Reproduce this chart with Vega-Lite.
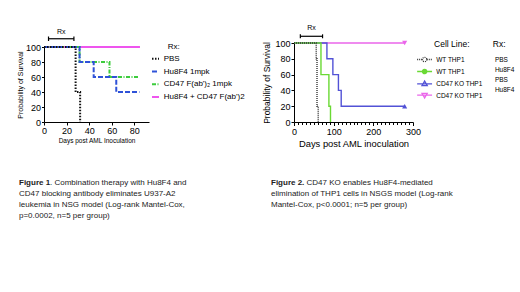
{
  "$schema": "https://vega.github.io/schema/vega-lite/v6.json",
  "autosize": {"type": "pad"},
  "padding": {"left": 16, "top": 24, "right": 0, "bottom": 0},
  "bounds": "flush",
  "spacing": 145,
  "config": {
    "font": "Liberation Sans",
    "view": {"stroke": null},
    "axis": {"grid": false, "domainColor": "#000", "tickColor": "#000", "labelColor": "#000", "titleColor": "#000", "titleFontWeight": "normal", "domainWidth": 1, "tickWidth": 1, "labelFlush": false, "labelOverlap": false},
    "legend": {"orient": "none", "padding": 0, "labelColor": "#000", "titleColor": "#000", "titleFontWeight": "normal"}
  },
  "resolve": {
    "scale": {"x": "independent", "y": "independent", "color": "independent", "strokeDash": "independent", "strokeWidth": "independent", "shape": "independent"},
    "legend": {"color": "independent", "strokeDash": "independent", "strokeWidth": "independent", "shape": "independent"}
  },
  "hconcat": [
    {
      "width": 105,
      "height": 79,
      "layer": [
        {
          "data": {"values": [
            {"g": "Hu8F4 + CD47 F(ab')2", "day": 0, "s": 100}, {"g": "Hu8F4 + CD47 F(ab')2", "day": 85, "s": 100},
            {"g": "CD47 F(ab')₂ 1mpk", "day": 0, "s": 100}, {"g": "CD47 F(ab')₂ 1mpk", "day": 31.5, "s": 80}, {"g": "CD47 F(ab')₂ 1mpk", "day": 58, "s": 60}, {"g": "CD47 F(ab')₂ 1mpk", "day": 84.5, "s": 60},
            {"g": "Hu8F4 1mpk", "day": 0, "s": 100}, {"g": "Hu8F4 1mpk", "day": 31.5, "s": 80}, {"g": "Hu8F4 1mpk", "day": 44, "s": 60}, {"g": "Hu8F4 1mpk", "day": 64, "s": 40}, {"g": "Hu8F4 1mpk", "day": 84.5, "s": 40},
            {"g": "PBS", "day": 0, "s": 100}, {"g": "PBS", "day": 28, "s": 40}, {"g": "PBS", "day": 32, "s": 0}
          ]},
          "mark": {"type": "line", "interpolate": "step-after", "clip": false},
          "encoding": {
            "x": {"field": "day", "type": "quantitative", "scale": {"domain": [0, 93], "nice": false},
              "axis": {"values": [0, 20, 40, 60, 80], "labelOverlap": false, "title": "Days post AML Inoculation", "titleFontSize": 6.5, "labelFontSize": 9, "tickSize": 3, "labelPadding": 1, "titlePadding": 2}},
            "y": {"field": "s", "type": "quantitative", "scale": {"domain": [0, 100], "range": [79, 4]},
              "axis": {"values": [0, 20, 40, 60, 80, 100], "labelOverlap": false, "title": "Probability of Survival", "titleFontSize": 7, "labelFontSize": 9, "tickSize": 2.5, "labelPadding": 1, "titlePadding": 2}},
            "color": {"field": "g", "type": "nominal", "title": "Rx:",
              "scale": {"domain": ["PBS", "Hu8F4 1mpk", "CD47 F(ab')₂ 1mpk", "Hu8F4 + CD47 F(ab')2"], "range": ["#111111", "#2f52d8", "#3ccc3c", "#ee55ee"]},
              "legend": {"legendX": 107, "legendY": 0, "labelFontSize": 8, "titleFontSize": 8, "symbolSize": 49, "rowPadding": 3.7, "titlePadding": 3.3, "labelOffset": 3.7, "symbolType": "stroke",
                "encode": {"title": {"update": {"dx": {"value": 16.7}}}}}},
            "strokeDash": {"field": "g", "type": "nominal", "title": "Rx:",
              "scale": {"domain": ["PBS", "Hu8F4 1mpk", "CD47 F(ab')₂ 1mpk", "Hu8F4 + CD47 F(ab')2"], "range": [[1.5, 1.5], [5, 2], [4, 1.5, 1, 1.5], [1, 0]]}},
            "strokeWidth": {"field": "g", "type": "ordinal", "title": "Rx:",
              "scale": {"domain": ["PBS", "Hu8F4 1mpk", "CD47 F(ab')₂ 1mpk", "Hu8F4 + CD47 F(ab')2"], "range": [2, 2, 1.5, 1]}}
          }
        },
        {
          "data": {"values": [{"day": 4}, {"day": 26.5}]},
          "layer": [
            {"mark": {"type": "line", "color": "#000", "strokeWidth": 1.2, "clip": false},
             "encoding": {
               "x": {"field": "day", "type": "quantitative", "axis": {"values": [0, 20, 40, 60, 80], "labelOverlap": false, "title": "Days post AML Inoculation", "titleFontSize": 6.5, "labelFontSize": 9, "tickSize": 3, "labelPadding": 1, "titlePadding": 2}},
               "y": {"datum": 111, "type": "quantitative", "axis": {"values": [0, 20, 40, 60, 80, 100], "labelOverlap": false, "title": "Probability of Survival", "titleFontSize": 7, "labelFontSize": 9, "tickSize": 2.5, "labelPadding": 1, "titlePadding": 2}}}},
            {"mark": {"type": "rule", "color": "#000", "strokeWidth": 1.2, "clip": false},
             "encoding": {
               "x": {"field": "day", "type": "quantitative", "axis": {"values": [0, 20, 40, 60, 80], "labelOverlap": false, "title": "Days post AML Inoculation", "titleFontSize": 6.5, "labelFontSize": 9, "tickSize": 3, "labelPadding": 1, "titlePadding": 2}},
               "y": {"datum": 108, "type": "quantitative", "axis": {"values": [0, 20, 40, 60, 80, 100], "labelOverlap": false, "title": "Probability of Survival", "titleFontSize": 7, "labelFontSize": 9, "tickSize": 2.5, "labelPadding": 1, "titlePadding": 2}},
               "y2": {"datum": 114}}},
            {"mark": {"type": "text", "fontSize": 7, "baseline": "middle", "color": "#000", "clip": false},
             "encoding": {
               "x": {"aggregate": "mean", "field": "day", "type": "quantitative", "axis": {"values": [0, 20, 40, 60, 80], "labelOverlap": false, "title": "Days post AML Inoculation", "titleFontSize": 6.5, "labelFontSize": 9, "tickSize": 3, "labelPadding": 1, "titlePadding": 2}},
               "y": {"datum": 120, "type": "quantitative", "axis": {"values": [0, 20, 40, 60, 80, 100], "labelOverlap": false, "title": "Probability of Survival", "titleFontSize": 7, "labelFontSize": 9, "tickSize": 2.5, "labelPadding": 1, "titlePadding": 2}},
               "text": {"value": "Rx"}}}
          ]
        },
        {
          "data": {"values": [{}]},
          "layer": [
            {"mark": {"type": "text", "align": "left", "baseline": "alphabetic", "fontSize": 8, "fontWeight": "bold", "color": "#222", "x": -25, "y": 142},
             "encoding": {"text": {"value": "Figure 1"}}},
            {"mark": {"type": "text", "align": "left", "baseline": "alphabetic", "fontSize": 8, "color": "#222", "x": 6, "y": 142},
             "encoding": {"text": {"value": ". Combination therapy with Hu8F4 and"}}},
            {"mark": {"type": "text", "align": "left", "baseline": "alphabetic", "fontSize": 8, "color": "#222", "x": -25, "y": 153, "lineHeight": 11},
             "encoding": {"text": {"value": ["CD47 blocking antibody eliminates U937-A2", "leukemia in NSG model (Log-rank Mantel-Cox,", "p=0.0002, n=5 per group)"]}}}
          ]
        }
      ]
    },
    {
      "width": 119,
      "height": 79,
      "layer": [
        {
          "data": {"values": [
            {"g": "KO_Hu", "day": 0, "s": 100}, {"g": "KO_Hu", "day": 279, "s": 100},
            {"g": "KO_PBS", "day": 0, "s": 100}, {"g": "KO_PBS", "day": 83, "s": 80}, {"g": "KO_PBS", "day": 98, "s": 60}, {"g": "KO_PBS", "day": 112, "s": 40}, {"g": "KO_PBS", "day": 119, "s": 20}, {"g": "KO_PBS", "day": 279, "s": 20},
            {"g": "WT_Hu", "day": 0, "s": 100}, {"g": "WT_Hu", "day": 68, "s": 60}, {"g": "WT_Hu", "day": 88, "s": 20}, {"g": "WT_Hu", "day": 92, "s": 0},
            {"g": "WT_PBS", "day": 0, "s": 100}, {"g": "WT_PBS", "day": 56, "s": 80}, {"g": "WT_PBS", "day": 58, "s": 20}, {"g": "WT_PBS", "day": 61, "s": 0}
          ]},
          "mark": {"type": "line", "interpolate": "step-after", "clip": false},
          "encoding": {
            "x": {"field": "day", "type": "quantitative", "scale": {"domain": [0, 300], "nice": false},
              "axis": {"values": [0, 10, 20, 30, 40, 50, 60, 70, 80, 90, 100, 110, 120, 130, 140, 150, 160, 170, 180, 190, 200, 210, 220, 230, 240, 250, 260, 270, 280, 290, 300],
                "labelExpr": "datum.value % 100 === 0 ? datum.label : ''", "labelOverlap": false,
                "title": "Days post AML inoculation", "titleFontSize": 9.4, "labelFontSize": 9,
                "tickSize": {"condition": {"test": "datum.value % 100 === 0", "value": 3.5}, "value": 2.5},
                "labelPadding": 2, "titlePadding": 3}},
            "y": {"field": "s", "type": "quantitative", "scale": {"domain": [0, 100]},
              "axis": {"values": [0, 20, 40, 60, 80, 100], "labelOverlap": false, "title": "Probability of Survival", "titleFontSize": 8.5, "labelFontSize": 9, "tickSize": 3, "labelPadding": 1, "titlePadding": 3}},
            "color": {"field": "g", "type": "nominal", "title": "Cell Line:",
              "scale": {"domain": ["WT_PBS", "WT_Hu", "KO_PBS", "KO_Hu"], "range": ["#333333", "#6ad934", "#5252d6", "#ea66ea"]},
              "legend": {"legendX": 125.1, "legendY": -3, "labelFontSize": 6.5, "titleFontSize": 8.5, "symbolSize": 77, "symbolStrokeWidth": 1.3, "rowPadding": 1, "titlePadding": 5.5, "labelOffset": 6.1,
                "labelExpr": "datum.value === 'KO_PBS' || datum.value === 'KO_Hu' ? 'CD47 KO THP1' : 'WT THP1'",
                "encode": {"title": {"update": {"dx": {"value": 15}}}}}},
            "strokeDash": {"field": "g", "type": "nominal", "title": "Cell Line:",
              "scale": {"domain": ["WT_PBS", "WT_Hu", "KO_PBS", "KO_Hu"], "range": [[1, 1], [1, 0], [1, 0], [1, 0]]}},
            "strokeWidth": {"field": "g", "type": "ordinal", "title": "Rx:",
              "scale": {"domain": ["KO_Hu", "KO_PBS", "WT_Hu", "WT_PBS"], "range": [1.4, 1.4, 2, 1]},
              "legend": {"legendX": 183.8, "legendY": -3, "values": ["WT_PBS", "WT_Hu", "KO_PBS", "KO_Hu"], "labelFontSize": 6.5, "titleFontSize": 8.5, "symbolSize": 77, "symbolOpacity": 0, "rowPadding": 1, "titlePadding": 5.5, "labelOffset": 6.1,
                "labelExpr": "indexof(datum.value, 'PBS') >= 0 ? 'PBS' : 'Hu8F4'",
                "encode": {"title": {"update": {"dx": {"value": 15}}}}}}
          }
        },
        {
          "data": {"values": [{"g": "KO_PBS", "day": 279, "s": 20}, {"g": "KO_Hu", "day": 279, "s": 100}]},
          "layer": [
            {
              "mark": {"type": "point", "filled": false, "size": 0, "strokeWidth": 1.3, "clip": false},
              "encoding": {
                "x": {"field": "day", "type": "quantitative",
                  "axis": {"values": [0, 10, 20, 30, 40, 50, 60, 70, 80, 90, 100, 110, 120, 130, 140, 150, 160, 170, 180, 190, 200, 210, 220, 230, 240, 250, 260, 270, 280, 290, 300],
                    "labelExpr": "datum.value % 100 === 0 ? datum.label : ''", "labelOverlap": false,
                    "title": "Days post AML inoculation", "titleFontSize": 9.4, "labelFontSize": 9,
                    "tickSize": {"condition": {"test": "datum.value % 100 === 0", "value": 3.5}, "value": 2.5},
                    "labelPadding": 2, "titlePadding": 3}},
                "y": {"field": "s", "type": "quantitative",
                  "axis": {"values": [0, 20, 40, 60, 80, 100], "labelOverlap": false, "title": "Probability of Survival", "titleFontSize": 8.5, "labelFontSize": 9, "tickSize": 3, "labelPadding": 1, "titlePadding": 3}},
                "color": {"field": "g", "type": "nominal", "title": "Cell Line:"},
                "shape": {"field": "g", "type": "nominal", "title": "Cell Line:",
                  "scale": {"domain": ["WT_PBS", "WT_Hu", "KO_PBS", "KO_Hu"],
                    "range": ["M-1.7,0H-0.5M0.5,0H1.7M0.5,0A0.5,0.5 0 1 1 -0.5,0A0.5,0.5 0 1 1 0.5,0Z", "M-1.7,0H1.7M0.5,0A0.5,0.5 0 1 1 -0.5,0A0.5,0.5 0 1 1 0.5,0ZM0.25,0A0.25,0.25 0 1 1 -0.25,0A0.25,0.25 0 1 1 0.25,0Z", "M-1.7,0.1H1.7M-0.6,0.5L0,-0.55L0.6,0.5Z", "M-1.7,-0.1H1.7M-0.6,-0.5L0,0.55L0.6,-0.5Z"]}}
              }
            },
            {
              "transform": [{"filter": "datum.g === 'KO_PBS'"}],
              "mark": {"type": "point", "filled": true, "shape": "triangle-up", "size": 26, "color": "#5252d6", "opacity": 1, "clip": false},
              "encoding": {
                "x": {"field": "day", "type": "quantitative",
                  "axis": {"values": [0, 10, 20, 30, 40, 50, 60, 70, 80, 90, 100, 110, 120, 130, 140, 150, 160, 170, 180, 190, 200, 210, 220, 230, 240, 250, 260, 270, 280, 290, 300],
                    "labelExpr": "datum.value % 100 === 0 ? datum.label : ''", "labelOverlap": false,
                    "title": "Days post AML inoculation", "titleFontSize": 9.4, "labelFontSize": 9,
                    "tickSize": {"condition": {"test": "datum.value % 100 === 0", "value": 3.5}, "value": 2.5},
                    "labelPadding": 2, "titlePadding": 3}},
                "y": {"field": "s", "type": "quantitative",
                  "axis": {"values": [0, 20, 40, 60, 80, 100], "labelOverlap": false, "title": "Probability of Survival", "titleFontSize": 8.5, "labelFontSize": 9, "tickSize": 3, "labelPadding": 1, "titlePadding": 3}}
              }
            },
            {
              "transform": [{"filter": "datum.g === 'KO_Hu'"}],
              "mark": {"type": "point", "filled": true, "shape": "triangle-down", "size": 26, "color": "#ea66ea", "opacity": 1, "clip": false},
              "encoding": {
                "x": {"field": "day", "type": "quantitative",
                  "axis": {"values": [0, 10, 20, 30, 40, 50, 60, 70, 80, 90, 100, 110, 120, 130, 140, 150, 160, 170, 180, 190, 200, 210, 220, 230, 240, 250, 260, 270, 280, 290, 300],
                    "labelExpr": "datum.value % 100 === 0 ? datum.label : ''", "labelOverlap": false,
                    "title": "Days post AML inoculation", "titleFontSize": 9.4, "labelFontSize": 9,
                    "tickSize": {"condition": {"test": "datum.value % 100 === 0", "value": 3.5}, "value": 2.5},
                    "labelPadding": 2, "titlePadding": 3}},
                "y": {"field": "s", "type": "quantitative",
                  "axis": {"values": [0, 20, 40, 60, 80, 100], "labelOverlap": false, "title": "Probability of Survival", "titleFontSize": 8.5, "labelFontSize": 9, "tickSize": 3, "labelPadding": 1, "titlePadding": 3}}
              }
            }
          ]
        },
        {
          "data": {"values": [{"day": 16}, {"day": 72}]},
          "layer": [
            {"mark": {"type": "line", "color": "#000", "strokeWidth": 1.2, "clip": false},
             "encoding": {
               "x": {"field": "day", "type": "quantitative",
                 "axis": {"values": [0, 10, 20, 30, 40, 50, 60, 70, 80, 90, 100, 110, 120, 130, 140, 150, 160, 170, 180, 190, 200, 210, 220, 230, 240, 250, 260, 270, 280, 290, 300],
                   "labelExpr": "datum.value % 100 === 0 ? datum.label : ''", "labelOverlap": false,
                   "title": "Days post AML inoculation", "titleFontSize": 9.4, "labelFontSize": 9,
                   "tickSize": {"condition": {"test": "datum.value % 100 === 0", "value": 3.5}, "value": 2.5},
                   "labelPadding": 2, "titlePadding": 3}},
               "y": {"datum": 108.5, "type": "quantitative",
                 "axis": {"values": [0, 20, 40, 60, 80, 100], "labelOverlap": false, "title": "Probability of Survival", "titleFontSize": 8.5, "labelFontSize": 9, "tickSize": 3, "labelPadding": 1, "titlePadding": 3}}}},
            {"mark": {"type": "rule", "color": "#000", "strokeWidth": 1.2, "clip": false},
             "encoding": {
               "x": {"field": "day", "type": "quantitative",
                 "axis": {"values": [0, 10, 20, 30, 40, 50, 60, 70, 80, 90, 100, 110, 120, 130, 140, 150, 160, 170, 180, 190, 200, 210, 220, 230, 240, 250, 260, 270, 280, 290, 300],
                   "labelExpr": "datum.value % 100 === 0 ? datum.label : ''", "labelOverlap": false,
                   "title": "Days post AML inoculation", "titleFontSize": 9.4, "labelFontSize": 9,
                   "tickSize": {"condition": {"test": "datum.value % 100 === 0", "value": 3.5}, "value": 2.5},
                   "labelPadding": 2, "titlePadding": 3}},
               "y": {"datum": 106, "type": "quantitative",
                 "axis": {"values": [0, 20, 40, 60, 80, 100], "labelOverlap": false, "title": "Probability of Survival", "titleFontSize": 8.5, "labelFontSize": 9, "tickSize": 3, "labelPadding": 1, "titlePadding": 3}},
               "y2": {"datum": 111}}},
            {"mark": {"type": "text", "fontSize": 7, "baseline": "middle", "color": "#000", "clip": false},
             "encoding": {
               "x": {"aggregate": "mean", "field": "day", "type": "quantitative",
                 "axis": {"values": [0, 10, 20, 30, 40, 50, 60, 70, 80, 90, 100, 110, 120, 130, 140, 150, 160, 170, 180, 190, 200, 210, 220, 230, 240, 250, 260, 270, 280, 290, 300],
                   "labelExpr": "datum.value % 100 === 0 ? datum.label : ''", "labelOverlap": false,
                   "title": "Days post AML inoculation", "titleFontSize": 9.4, "labelFontSize": 9,
                   "tickSize": {"condition": {"test": "datum.value % 100 === 0", "value": 3.5}, "value": 2.5},
                   "labelPadding": 2, "titlePadding": 3}},
               "y": {"datum": 118.6, "type": "quantitative",
                 "axis": {"values": [0, 20, 40, 60, 80, 100], "labelOverlap": false, "title": "Probability of Survival", "titleFontSize": 8.5, "labelFontSize": 9, "tickSize": 3, "labelPadding": 1, "titlePadding": 3}},
               "text": {"value": "Rx"}}}
          ]
        },
        {
          "data": {"values": [{}]},
          "layer": [
            {"mark": {"type": "text", "align": "left", "baseline": "alphabetic", "fontSize": 8, "fontWeight": "bold", "color": "#222", "x": -23, "y": 142},
             "encoding": {"text": {"value": "Figure 2."}}},
            {"mark": {"type": "text", "align": "left", "baseline": "alphabetic", "fontSize": 8, "color": "#222", "x": 12.5, "y": 142},
             "encoding": {"text": {"value": "CD47 KO enables Hu8F4-mediated"}}},
            {"mark": {"type": "text", "align": "left", "baseline": "alphabetic", "fontSize": 8, "color": "#222", "x": -23, "y": 153, "lineHeight": 11},
             "encoding": {"text": {"value": ["elimination of  THP1 cells in NSGS model (Log-rank", "Mantel-Cox, p<0.0001; n=5 per group)"]}}}
          ]
        }
      ]
    }
  ]
}
